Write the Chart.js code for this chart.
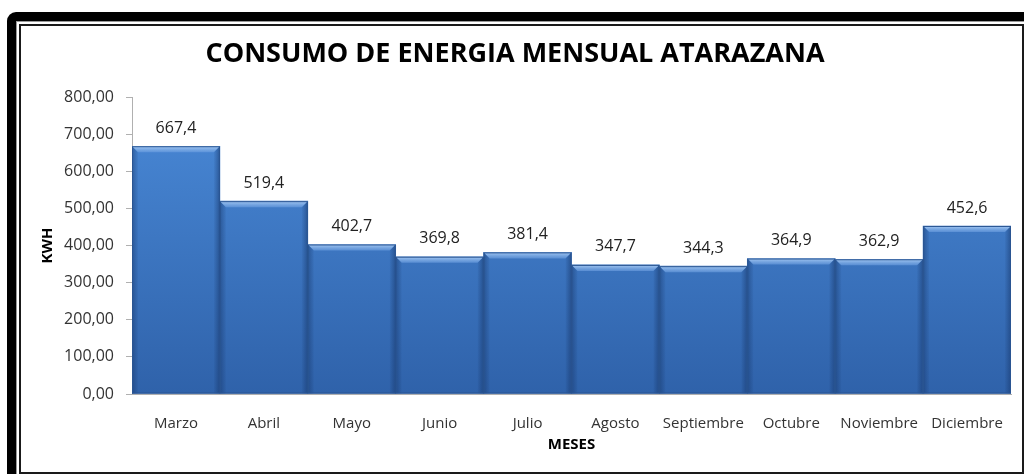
<!DOCTYPE html>
<html><head><meta charset="utf-8">
<script src="https://cdn.jsdelivr.net/npm/chart.js@4.4.1/dist/chart.umd.min.js"></script>
<style>
html,body{margin:0;padding:0;width:1024px;height:474px;overflow:hidden;background:#fff;}
#f1{position:absolute;left:7px;top:12px;width:1040px;height:480px;background:#000;border-radius:9px 0 0 0;}
#f2{position:absolute;left:16px;top:21px;width:1040px;height:480px;background:#fff;border-top:1px solid #999;border-left:1px solid #999;}
#f3{position:absolute;left:19px;top:24px;width:1001px;height:446px;background:#fff;border:2px solid #1a1a1a;}
#c{position:absolute;left:0;top:0;}
</style></head>
<body>
<div id="f1"></div><div id="f2"></div><div id="f3"></div>
<canvas id="c" width="1024" height="474"></canvas>
<script>
const categories = ["Marzo","Abril","Mayo","Junio","Julio","Agosto","Septiembre","Octubre","Noviembre","Diciembre"];
const consumo = [667.4, 519.4, 402.7, 369.8, 381.4, 347.7, 344.3, 364.9, 362.9, 452.6];
const chartTitle = "CONSUMO DE ENERGIA MENSUAL ATARAZANA";
const yTitle = "KWH";
const xTitle = "MESES";

const fmt2 = v => v.toFixed(2).replace('.', ',');
const fmt1 = v => v.toFixed(1).replace('.', ',');

// bevel shading + value labels drawn on the library's bar elements
const barDecor = {
  id: 'barDecor',
  afterDatasetsDraw(chart) {
    const {ctx} = chart;
    const meta = chart.getDatasetMeta(0);
    ctx.save();
    meta.data.forEach((el) => {
      const p = el.getProps(['x','y','base','width'], true);
      const l = p.x - p.width / 2, r = p.x + p.width / 2, t = p.y, b = p.base;
      const bv = 6;
      // top bevel (light)
      const gt = ctx.createLinearGradient(0, t, 0, t + bv);
      gt.addColorStop(0, 'rgba(170,205,245,0.95)');
      gt.addColorStop(1, 'rgba(110,160,225,0.6)');
      ctx.fillStyle = gt;
      ctx.beginPath();
      ctx.moveTo(l, t); ctx.lineTo(r, t); ctx.lineTo(r - bv, t + bv); ctx.lineTo(l + bv, t + bv); ctx.closePath();
      ctx.fill();
      // left bevel
      const gl = ctx.createLinearGradient(l, 0, l + bv, 0);
      gl.addColorStop(0, 'rgba(20,50,100,0.45)');
      gl.addColorStop(1, 'rgba(20,50,100,0.05)');
      ctx.fillStyle = gl;
      ctx.beginPath();
      ctx.moveTo(l, t); ctx.lineTo(l + bv, t + bv); ctx.lineTo(l + bv, b); ctx.lineTo(l, b); ctx.closePath();
      ctx.fill();
      // right bevel
      const gr = ctx.createLinearGradient(r - bv, 0, r, 0);
      gr.addColorStop(0, 'rgba(20,50,100,0.05)');
      gr.addColorStop(1, 'rgba(20,50,100,0.5)');
      ctx.fillStyle = gr;
      ctx.beginPath();
      ctx.moveTo(r, t); ctx.lineTo(r - bv, t + bv); ctx.lineTo(r - bv, b); ctx.lineTo(r, b); ctx.closePath();
      ctx.fill();
      ctx.strokeStyle = '#2a5592';
      ctx.lineWidth = 1;
      ctx.strokeRect(l + 0.5, t + 0.5, r - l - 1, b - t - 1);
    });
    ctx.font = '16px "Open Sans"';
    ctx.fillStyle = '#222';
    ctx.textAlign = 'center';
    ctx.textBaseline = 'middle';
    meta.data.forEach((el, i) => {
      ctx.fillText(fmt1(chart.data.datasets[0].data[i]), el.x, el.y - 18);
    });
    ctx.restore();
  }
};

const ctx = document.getElementById('c').getContext('2d');
new Chart(ctx, {
  type: 'bar',
  data: {
    labels: categories,
    datasets: [{
      data: consumo,
      backgroundColor: (c) => {
        const a = c.chart.chartArea;
        if (!a) return '#3f7bc8';
        const g = c.chart.ctx.createLinearGradient(0, a.top, 0, a.bottom);
        g.addColorStop(0, '#4a8ad8');
        g.addColorStop(1, '#2f62aa');
        return g;
      },
      borderWidth: 0,
      categoryPercentage: 1.0,
      barPercentage: 1.0
    }]
  },
  options: {
    responsive: false,
    animation: false,
    layout: {padding: {left: 19, right: 13, top: 0, bottom: 0}},
    plugins: {
      legend: {display: false},
      tooltip: {enabled: false},
      title: {
        display: true,
        text: chartTitle,
        color: '#000',
        font: {family: '"Open Sans"', size: 27, weight: 'bold', lineHeight: 1.2},
        padding: {top: 38, bottom: 26.6}
      }
    },
    scales: {
      x: {
        grid: {display: false},
        border: {display: true, color: '#b0b0b0'},
        ticks: {color: '#333', font: {family: '"Open Sans"', size: 15}, padding: 13, maxRotation: 0, autoSkip: false},
        title: {display: true, text: xTitle, color: '#000', font: {family: '"Open Sans"', size: 15, weight: 'bold', lineHeight: 1.2}, padding: {top: 0, bottom: 20}},
        afterFit: s => { s.height = 80; }
      },
      y: {
        min: 0, max: 800,
        ticks: {stepSize: 100, color: '#333', font: {family: '"Open Sans"', size: 16}, padding: 12, callback: v => fmt2(v)},
        grid: {drawOnChartArea: false, drawTicks: true, tickLength: 6, color: '#b0b0b0'},
        border: {display: true, color: '#b0b0b0'},
        title: {display: true, text: yTitle, color: '#000', font: {family: '"Open Sans"', size: 15, weight: 'bold', lineHeight: 1.2}, padding: {top: 20, bottom: 0}},
        afterFit: s => { s.width = 113; }
      }
    }
  },
  plugins: [barDecor]
});
</script>
</body></html>
